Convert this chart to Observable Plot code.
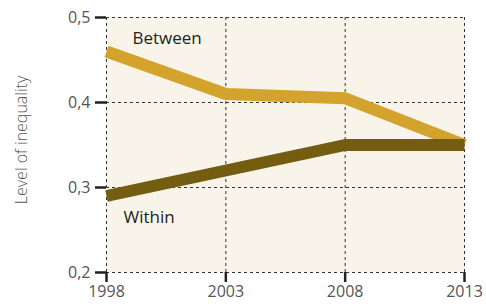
<!DOCTYPE html>
<html>
<head>
<meta charset="utf-8">
<script src="https://cdn.jsdelivr.net/npm/d3@7"></script>
<script src="https://cdn.jsdelivr.net/npm/@observablehq/plot@0.6"></script>
<style>
  html, body { margin: 0; padding: 0; background: #ffffff; }
  #chart svg { display: block; }
</style>
</head>
<body>
<div id="chart"></div>
<script>
const years = [1998, 2003, 2008, 2013];
const betweenValues = [0.46, 0.41, 0.405, 0.35];
const withinValues = [0.29, 0.32, 0.35, 0.35];
const yTicks = [0.2, 0.3, 0.4, 0.5];
const seriesNames = ["Between", "Within"];
const seriesColors = ["#d3a32e", "#745c11"];
const yTitle = "Level of inequality";

const data = [
  ...years.map((year, i) => ({series: seriesNames[0], year, value: betweenValues[i]})),
  ...years.map((year, i) => ({series: seriesNames[1], year, value: withinValues[i]}))
];
const firstPoints = data.filter(d => d.year === years[0]);

const font = "'Open Sans', 'Noto Sans', sans-serif";

const chart = Plot.plot({
  width: 486,
  height: 306,
  marginLeft: 106,
  marginRight: 22,
  marginTop: 17,
  marginBottom: 34,
  style: {fontFamily: font, fontSize: "16px", color: "#555555", background: "#ffffff", overflow: "visible"},
  x: {domain: [years[0], years[years.length - 1]]},
  y: {domain: [yTicks[0], yTicks[yTicks.length - 1]]},
  color: {domain: seriesNames, range: seriesColors},
  marks: [
    Plot.frame({fill: "#f8f4ea", stroke: null}),
    Plot.gridX(years, {stroke: "#333333", strokeOpacity: 1, strokeWidth: 1, strokeDasharray: "3,3"}),
    Plot.gridY(yTicks, {stroke: "#333333", strokeOpacity: 1, strokeWidth: 1, strokeDasharray: "3,3"}),
    Plot.line(data, {x: "year", y: "value", z: "series", stroke: "series", strokeWidth: 12, strokeLinejoin: "miter", strokeLinecap: "butt"}),
    Plot.text(firstPoints.filter(d => d.series === seriesNames[0]), {x: "year", y: "value", text: "series", textAnchor: "start", dx: 26, dy: -13, fill: "#231f20", fontSize: 17}),
    Plot.text(firstPoints.filter(d => d.series === seriesNames[1]), {x: "year", y: "value", text: "series", textAnchor: "start", dx: 17, dy: 22, fill: "#231f20", fontSize: 17}),
    Plot.axisX({ticks: years, tickFormat: d => String(d), tickSize: 10, tickPadding: 3, stroke: "#231f20", strokeWidth: 2.5, fill: "#555555", fontSize: 16, label: null}),
    Plot.axisY({ticks: yTicks, tickFormat: d => d3.format(".1f")(d).replace(".", ","), tickSize: 11, tickPadding: 5, stroke: "#231f20", strokeWidth: 2.5, fill: "#555555", fontSize: 16, label: null}),
    Plot.text([yTitle], {frameAnchor: "left", textAnchor: "middle", lineAnchor: "middle", text: d => d, rotate: -90, dx: -85, dy: -5, fontSize: 16, fontWeight: 300, fill: "#555555"})
  ]
});
document.getElementById("chart").appendChild(chart);
</script>
</body>
</html>
